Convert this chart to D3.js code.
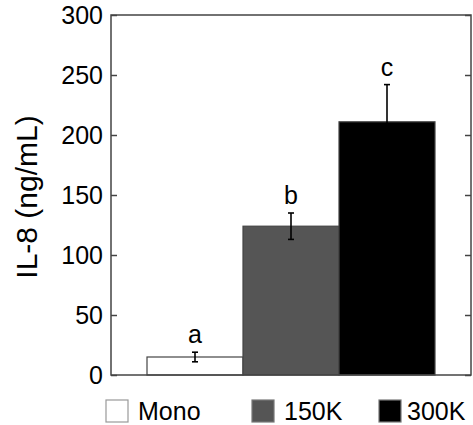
<!DOCTYPE html>
<html>
<head>
<meta charset="utf-8">
<script src="https://cdn.jsdelivr.net/npm/d3@7"></script>
<style>
  html, body { margin: 0; padding: 0; background: #fff; }
  svg { display: block; font-family: "Liberation Sans", Arial, sans-serif; }
</style>
</head>
<body>
<svg id="chart" width="473" height="425"></svg>
<script>
const categories = ["Mono", "150K", "300K"];
const values = [15, 124, 211];
const errors = [4, 11, 31];
const sigLetters = ["a", "b", "c"];
const colors = ["#ffffff", "#555555", "#000000"];
const yTicks = [0, 50, 100, 150, 200, 250, 300];

const svg = d3.select("#chart");
const mLeft = 111, mRight = 471, mTop = 15, mBottom = 375;

const x = d3.scaleBand().domain(categories).range([mLeft, mRight])
  .paddingInner(0).paddingOuter(0.375);
const y = d3.scaleLinear().domain([0, 300]).range([mBottom, mTop]);

// bars
svg.selectAll("rect.bar").data(categories).enter().append("rect")
  .attr("class", "bar")
  .attr("x", d => x(d))
  .attr("width", x.bandwidth())
  .attr("y", (d, i) => y(values[i]))
  .attr("height", (d, i) => y(0) - y(values[i]))
  .attr("fill", (d, i) => colors[i])
  .attr("stroke", "#444")
  .attr("stroke-width", 1.2);

// error bars
const eb = svg.selectAll("g.err").data(categories).enter().append("g").attr("class", "err");
eb.append("line")
  .attr("x1", d => x(d) + x.bandwidth() / 2)
  .attr("x2", d => x(d) + x.bandwidth() / 2)
  .attr("y1", (d, i) => y(values[i] + errors[i]))
  .attr("y2", (d, i) => y(values[i] - errors[i]))
  .attr("stroke", "#000").attr("stroke-width", 1.6);
[1, -1].forEach(s => {
  eb.append("line")
    .attr("x1", d => x(d) + x.bandwidth() / 2 - 3)
    .attr("x2", d => x(d) + x.bandwidth() / 2 + 3)
    .attr("y1", (d, i) => y(values[i] + s * errors[i]))
    .attr("y2", (d, i) => y(values[i] + s * errors[i]))
    .attr("stroke", "#000").attr("stroke-width", 1.6);
});

// significance letters
svg.selectAll("text.sig").data(categories).enter().append("text")
  .attr("class", "sig")
  .attr("x", d => x(d) + x.bandwidth() / 2)
  .attr("y", (d, i) => y(values[i] + errors[i]) - 9)
  .attr("text-anchor", "middle")
  .attr("font-size", 25)
  .attr("fill", "#000")
  .text((d, i) => sigLetters[i]);

// axes
const yAxisL = d3.axisLeft(y).tickValues(yTicks).tickSizeInner(-6).tickSizeOuter(0).tickPadding(8);
const gL = svg.append("g").attr("transform", `translate(${mLeft},0)`).call(yAxisL);
gL.selectAll("text").attr("font-size", 25).attr("font-family", "Liberation Sans, Arial, sans-serif").attr("fill", "#000");
gL.select(".domain").remove();
gL.selectAll("line").attr("stroke", "#444").attr("stroke-width", 1.5);

const yAxisR = d3.axisRight(y).tickValues(yTicks).tickSizeInner(-6).tickSizeOuter(0).tickFormat("");
const gR = svg.append("g").attr("transform", `translate(${mRight},0)`).call(yAxisR);
gR.select(".domain").remove();
gR.selectAll("line").attr("stroke", "#444").attr("stroke-width", 1.5);

// frame
svg.append("rect")
  .attr("x", mLeft).attr("y", mTop)
  .attr("width", mRight - mLeft).attr("height", mBottom - mTop)
  .attr("fill", "none").attr("stroke", "#444").attr("stroke-width", 1.5);

// y title
svg.append("text")
  .attr("transform", `translate(37,197) rotate(-90)`)
  .attr("text-anchor", "middle")
  .attr("font-size", 30)
  .attr("fill", "#000")
  .text("IL-8 (ng/mL)");

// legend
const legendX = [106, 252, 379];
const leg = svg.selectAll("g.leg").data(categories).enter().append("g").attr("class", "leg")
  .attr("transform", (d, i) => `translate(${legendX[i]},400)`);
leg.append("rect")
  .attr("width", 22).attr("height", 22)
  .attr("fill", (d, i) => colors[i])
  .attr("stroke", (d, i) => i === 0 ? "#999" : "#777")
  .attr("stroke-width", 1.2);
leg.append("text")
  .attr("x", (d, i) => i === 2 ? 28 : 32)
  .attr("y", 19.5)
  .attr("font-size", 25)
  .attr("fill", "#000")
  .text(d => d);
</script>
</body>
</html>
